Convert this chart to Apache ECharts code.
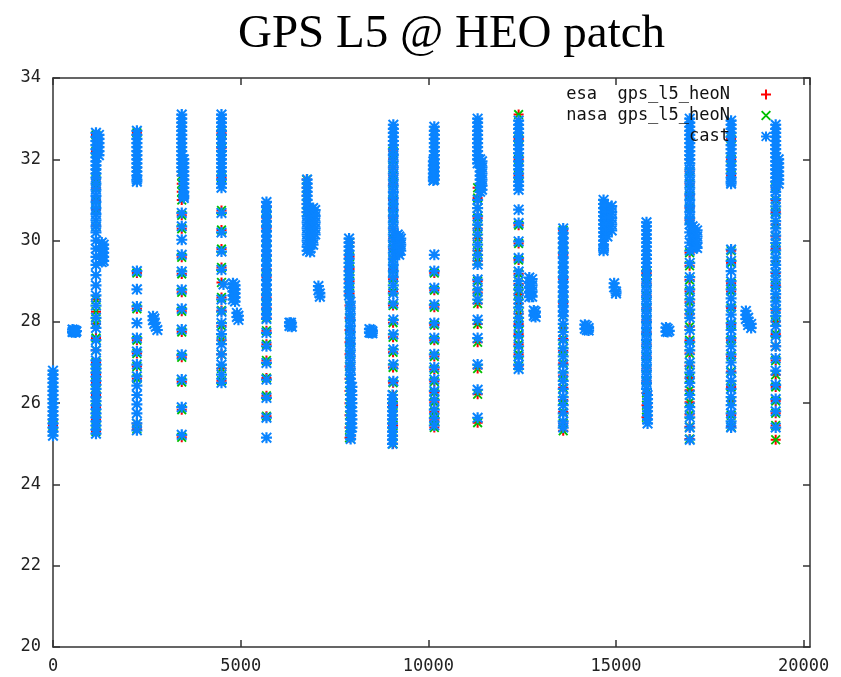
<!DOCTYPE html>
<html>
<head>
<meta charset="utf-8">
<script src="https://cdn.jsdelivr.net/npm/echarts@6.0.0/dist/echarts.min.js"></script>
<style>
  html, body { margin: 0; padding: 0; background: #fff; }
  #chart { width: 841px; height: 677px; }
</style>
</head>
<body>
<div id="chart"></div>
<script>
// gnuplot style scatter: three series, points grouped in vertical passes
// every entry is [x, [y, y, ...]]  (all points of a pass share that x)

var seriesNames = ['esa  gps_l5_heoN', 'nasa gps_l5_heoN', 'cast'];
var xTicks = [0, 5000, 10000, 15000, 20000];
var yTicks = [20, 22, 24, 26, 28, 30, 32, 34];

// cast points (blue *)
var castColumns = [
    [0, [26.8, 26.7, 26.6, 26.5, 26.4, 26.3, 26.2, 26.1, 26.0, 25.9, 25.8, 25.7, 25.6, 25.5, 25.4, 25.3, 25.2]],
    [520, [27.81, 27.75]],
    [560, [27.8, 27.75]],
    [600, [27.78, 27.74]],
    [625, [27.77]],
    [1145, [32.65, 32.55, 32.45, 32.35, 32.25, 32.15, 32.05, 31.95, 31.85, 31.75, 31.65, 31.55, 31.4, 31.25, 31.1, 30.95, 30.8, 30.65, 30.5, 30.35, 30.2, 30.0, 29.8, 29.6, 29.4, 29.15, 28.9, 28.65, 28.4, 28.1, 27.85, 27.55, 27.3, 27.05, 26.95, 26.85, 26.75, 26.65, 26.55, 26.45, 26.35, 26.25, 26.15, 26.05, 25.95, 25.85, 25.75, 25.65, 25.55, 25.45, 25.35, 25.25]],
    [1224, [32.6, 32.5, 32.4, 32.3, 32.2, 32.1]],
    [1300, [29.95, 29.85, 29.75, 29.65, 29.55, 29.47]],
    [1350, [29.9, 29.8, 29.7, 29.6, 29.5]],
    [2235, [32.7, 32.6, 32.5, 32.4, 32.3, 32.2, 32.1, 32.0, 31.9, 31.8, 31.7, 31.6, 31.5, 31.45, 29.25, 28.8, 28.38, 27.97, 27.6, 27.27, 26.95, 26.66, 26.43, 26.2, 25.97, 25.75, 25.5, 25.33]],
    [2665, [28.14, 28.04]],
    [2700, [28.08, 27.95]],
    [2740, [27.88]],
    [2780, [27.8]],
    [3430, [33.1, 33.0, 32.9, 32.8, 32.7, 32.6, 32.5, 32.4, 32.3, 32.2, 32.1, 32.0, 31.9, 31.8, 31.7, 30.68, 30.35, 30.02, 29.65, 29.24, 28.79, 28.32, 27.81, 27.19, 26.58, 25.9, 25.22]],
    [3485, [32.0, 31.9, 31.8, 31.7, 31.6, 31.5, 31.4, 31.3, 31.2, 31.1, 31.05]],
    [4489, [33.1, 33.0, 32.9, 32.8, 32.7, 32.6, 32.5, 32.4, 32.3, 32.2, 32.1, 32.0, 31.9, 31.8, 31.7, 31.6, 31.5, 31.4, 31.3, 30.68, 30.2, 29.73, 29.28, 28.55, 28.25, 27.97, 27.7, 27.45, 27.2, 26.95, 26.7, 26.5]],
    [4542, [28.92]],
    [4795, [28.95, 28.85, 28.75, 28.65, 28.55]],
    [4850, [28.9, 28.8, 28.7, 28.6, 28.5]],
    [4900, [28.22, 28.12]],
    [4940, [28.15, 28.05]],
    [5687, [30.95, 30.83, 30.71, 30.59, 30.47, 30.35, 30.23, 30.11, 29.99, 29.87, 29.75, 29.63, 29.51, 29.39, 29.27, 29.15, 29.03, 28.91, 28.79, 28.67, 28.55, 28.43, 28.31, 28.19, 28.07, 27.73, 27.4, 26.99, 26.58, 26.13, 25.64, 25.15]],
    [6300, [27.98, 27.9]],
    [6340, [27.98, 27.93]],
    [6362, [27.88]],
    [6770, [31.5, 31.4, 31.3, 31.2, 31.1, 31.0, 30.9, 30.8, 30.7, 30.6, 30.45, 30.3, 30.15, 30.0, 29.85, 29.75]],
    [6850, [30.7, 30.55, 30.4, 30.25, 30.1, 29.95, 29.8, 29.72]],
    [6930, [30.8, 30.65, 30.5, 30.35, 30.2, 30.05, 29.9]],
    [6985, [30.75, 30.6, 30.45, 30.3, 30.15]],
    [7071, [28.88, 28.78]],
    [7110, [28.7, 28.62]],
    [7888, [30.05, 29.95, 29.85, 29.75, 29.65, 29.55, 29.45, 29.35, 29.25, 29.15, 29.05, 28.95, 28.85, 28.75, 28.65]],
    [7923, [28.5, 28.35, 28.2, 28.05, 27.9, 27.75, 27.6, 27.45, 27.3, 27.15, 27.0, 26.85, 26.7, 26.6]],
    [7930, [26.5, 26.4, 26.3, 26.2, 26.1, 26.0, 25.9, 25.8, 25.7, 25.6, 25.5, 25.4, 25.3, 25.2, 25.12]],
    [7965, [26.4, 26.2, 26.0, 25.8, 25.6, 25.4]],
    [8430, [27.82, 27.74]],
    [8470, [27.8, 27.73]],
    [8510, [27.77, 27.72]],
    [9067, [32.85, 32.75, 32.65, 32.55, 32.45, 32.35, 32.25, 32.1, 31.95, 31.8, 31.65, 31.5, 31.35, 31.2, 31.05, 30.9, 30.75, 30.6, 30.45, 30.3, 30.15, 30.0, 29.85, 29.7, 29.55, 29.4, 29.25, 29.1, 28.9, 28.7, 28.45, 28.05, 27.69, 27.32, 26.95, 26.54]],
    [9045, [26.2, 26.1, 26.0, 25.9, 25.8, 25.7, 25.6, 25.5, 25.4, 25.3, 25.2, 25.1, 25.0]],
    [9185, [30.15, 30.0, 29.85, 29.7]],
    [9225, [30.1, 29.95, 29.8, 29.65]],
    [9265, [30.05, 29.9, 29.75]],
    [10159, [32.8, 32.7, 32.6, 32.5, 32.4, 32.3, 32.2, 32.1, 32.0, 31.9, 31.8, 31.7, 31.6, 31.5, 29.65, 29.25, 28.83, 28.42, 27.97, 27.6, 27.2, 26.88, 26.58, 26.3, 26.08, 25.84, 25.63, 25.45]],
    [10133, [31.95, 31.85, 31.75, 31.65, 31.55, 31.48]],
    [11313, [33.0, 32.9, 32.8, 32.7, 32.6, 32.5, 32.4, 32.3, 32.2, 32.1, 32.0, 31.9, 31.0, 30.8, 30.6, 30.39, 30.15, 29.9, 29.65, 29.41, 29.04, 28.79, 28.55, 28.05, 27.6, 26.95, 26.33, 25.64]],
    [11380, [32.0, 31.9, 31.8, 31.7, 31.6, 31.5, 31.4, 31.3, 31.2]],
    [11430, [31.95, 31.8, 31.65, 31.5, 31.35, 31.25]],
    [12405, [32.95, 32.85, 32.75, 32.65, 32.55, 32.45, 32.35, 32.25, 32.15, 32.05, 31.95, 31.85, 31.75, 31.65, 31.55, 31.45, 31.35, 31.25, 30.76, 30.43, 29.98, 29.57, 29.24, 29.0, 28.8, 28.55, 28.35, 28.1, 27.9, 27.65, 27.4, 27.15, 26.95, 26.84]],
    [12690, [29.09, 28.97, 28.85, 28.73, 28.61]],
    [12765, [29.05, 28.9, 28.75, 28.62]],
    [12810, [28.28, 28.15]],
    [12855, [28.25, 28.12]],
    [13593, [30.3, 30.18, 30.06, 29.94, 29.82, 29.7, 29.58, 29.46, 29.34, 29.22, 29.1, 28.98, 28.86, 28.74, 28.62, 28.5, 28.38, 28.26, 28.14, 27.95, 27.75, 27.55, 27.35, 27.15, 26.95, 26.75, 26.55, 26.35, 26.15, 25.95, 25.75, 25.55, 25.4]],
    [14170, [27.93, 27.83]],
    [14220, [27.9, 27.8]],
    [14270, [27.85, 27.79]],
    [14668, [31.0, 30.9, 30.8, 30.7, 30.6, 30.5, 30.4, 30.3, 30.2, 30.1, 30.0, 29.9, 29.8, 29.75]],
    [14770, [30.85, 30.7, 30.55, 30.4, 30.25, 30.1]],
    [14885, [30.85, 30.7, 30.55, 30.4, 30.25]],
    [14950, [28.95, 28.85]],
    [15000, [28.75, 28.7]],
    [15812, [30.45, 30.35, 30.25, 30.15, 30.05, 29.95, 29.85, 29.75, 29.65, 29.55, 29.45, 29.35, 29.25, 29.15, 29.05, 28.9, 28.75, 28.6, 28.45, 28.3, 28.15, 28.0, 27.85, 27.7, 27.55, 27.4, 27.25, 27.1, 26.95, 26.8, 26.65, 26.5, 26.35]],
    [15840, [26.2, 26.1, 26.0, 25.9, 25.8, 25.7, 25.6, 25.5]],
    [16330, [27.86, 27.76]],
    [16375, [27.83, 27.75]],
    [16420, [27.78]],
    [16965, [33.0, 32.9, 32.8, 32.7, 32.6, 32.5, 32.4, 32.3, 32.2, 32.1, 32.0, 31.9, 31.75, 31.6, 31.45, 31.3, 31.15, 31.0, 30.85, 30.7, 30.55, 30.4, 30.2, 29.95, 29.75, 29.45, 29.1, 28.8, 28.55, 28.3, 28.1, 27.8, 27.5, 27.3, 27.0, 26.75, 26.5, 26.2, 25.9, 25.65, 25.4, 25.1]],
    [17040, [30.35, 30.2, 30.05, 29.9, 29.8]],
    [17100, [30.3, 30.15, 30.0, 29.85]],
    [17160, [30.25, 30.1, 29.95, 29.82]],
    [18066, [32.95, 32.85, 32.75, 32.65, 32.55, 32.45, 32.35, 32.25, 32.15, 32.05, 31.95, 31.85, 31.75, 31.65, 31.55, 31.45, 31.4, 29.78, 29.5, 29.25, 29.0, 28.8, 28.58, 28.38, 28.18, 27.97, 27.8, 27.6, 27.4, 27.2, 27.0, 26.75, 26.55, 26.35, 26.15, 25.95, 25.75, 25.55, 25.4]],
    [18460, [28.27, 28.17, 28.07]],
    [18520, [28.1, 28.0, 27.92]],
    [18600, [27.95, 27.85]],
    [19254, [32.85, 32.75, 32.65, 32.55, 32.45, 32.35, 32.25, 32.15, 32.05, 31.95, 31.85, 31.75, 31.65, 31.55, 31.45, 31.35, 31.2, 31.02, 30.84, 30.66, 30.48, 30.3, 30.12, 29.94, 29.76, 29.58, 29.4, 29.22, 29.04, 28.86, 28.68, 28.5, 28.32, 28.14, 27.9, 27.65, 27.4, 27.1, 26.8, 26.45, 26.1, 25.8, 25.4]],
    [19334, [32.0, 31.9, 31.8, 31.7, 31.6, 31.5, 31.4]]
];

// esa points (red +); nasa (green x) sits on the same spots in the picture
var esaColumns = [
    [0, [26.7, 26.4, 26.1, 25.8, 25.6, 25.45, 25.3]],
    [1145, [32.6, 32.2, 31.75, 31.5, 31.3, 31.0, 30.75, 30.35, 28.55, 28.25, 27.95, 27.6, 27.3, 27.0, 26.7, 26.5, 26.2, 25.9, 25.6, 25.3]],
    [2235, [32.65, 32.1, 31.8, 29.2, 28.32, 27.55, 27.22, 26.9, 26.6, 25.5, 25.36]],
    [3430, [32.8, 32.3, 31.6, 31.4, 31.2, 31.0, 30.62, 30.29, 29.59, 29.18, 28.73, 28.26, 27.75, 27.13, 26.52, 25.84, 25.16]],
    [4489, [32.64, 32.27, 31.54, 30.74, 30.26, 29.79, 29.34, 28.97, 28.6, 28.28, 27.9, 27.55, 27.2, 26.85, 26.55]],
    [5687, [30.85, 30.55, 30.3, 30.0, 29.65, 29.3, 29.1, 28.8, 28.6, 28.35, 28.1, 27.78, 27.45, 27.05, 26.62, 26.18, 25.68]],
    [6760, [31.5, 31.3, 31.1, 30.9, 30.7]],
    [7900, [29.95, 29.6, 29.3, 29.0, 28.7, 28.4, 28.1, 27.8, 27.5, 27.2, 26.9, 26.6, 26.3, 26.0, 25.7, 25.4, 25.15]],
    [9060, [32.2, 32.0, 31.8, 31.6, 31.4, 31.2, 31.0, 30.8, 30.55, 30.3, 30.05, 29.8, 29.55, 29.3, 29.05, 28.75, 28.4, 27.98, 27.62, 27.25, 26.88, 26.5, 26.2, 25.95, 25.7, 25.45, 25.2, 25.0]],
    [10159, [32.7, 32.4, 32.1, 31.8, 31.5, 29.2, 28.78, 28.36, 27.92, 27.55, 27.15, 26.83, 26.53, 26.26, 26.02, 25.78, 25.58, 25.4]],
    [11313, [31.3, 31.05, 30.8, 30.55, 30.3, 30.05, 29.75, 29.5, 29.0, 28.72, 28.45, 27.95, 27.5, 26.85, 26.22, 25.52]],
    [12405, [33.1, 32.5, 32.0, 31.6, 30.38, 29.93, 29.52, 29.18, 28.93, 28.68, 28.45, 28.2, 27.95, 27.7, 27.45, 27.2, 26.92]],
    [13593, [30.25, 29.95, 29.65, 29.35, 29.05, 28.75, 28.45, 28.15, 27.85, 27.58, 27.28, 26.98, 26.68, 26.38, 26.08, 25.78, 25.5, 25.32]],
    [14668, [30.9, 30.5]],
    [15812, [29.2, 28.95, 28.65, 28.35, 28.05, 27.75, 27.45, 27.15, 26.85, 26.55, 26.25, 25.95, 25.65]],
    [16960, [32.0, 31.7, 31.4, 31.1, 30.8, 30.5, 29.7, 29.38, 29.03, 28.75, 28.48, 28.18, 27.88, 27.55, 27.22, 26.92, 26.62, 26.32, 26.02, 25.72, 25.42, 25.12]],
    [18066, [32.5, 32.0, 31.6, 29.75, 29.45, 28.95, 28.75, 28.34, 27.93, 27.55, 27.15, 26.78, 26.4, 26.05, 25.7, 25.42]],
    [19254, [31.3, 31.0, 30.7, 30.4, 30.1, 29.8, 29.5, 29.2, 28.9, 28.6, 28.3, 28.0, 27.7, 27.4, 27.05, 26.7, 26.4, 26.05, 25.75, 25.45, 25.1]]
];
var nasaColumns = esaColumns;

// gnuplot point types as filled paths
var PLUS = 'path://M4,0H6V4H10V6H6V10H4V6H0V4H4Z';
var CROSS = 'path://M0,1.3L1.3,0L10,8.7L8.7,10ZM0,8.7L8.7,0L10,1.3L1.3,10Z';
var STAR = 'path://M4,0H6V4H10V6H6V10H4V6H0V4H4ZM0,1.3L1.3,0L10,8.7L8.7,10ZM0,8.7L8.7,0L10,1.3L1.3,10Z';

function toPoints(columns) {
    var pts = [];
    for (var i = 0; i < columns.length; i++) {
        var x = columns[i][0], ys = columns[i][1];
        for (var j = 0; j < ys.length; j++) {
            pts.push([x, ys[j]]);
        }
    }
    return pts;
}

var MONO = '"DejaVu Sans Mono", "Liberation Mono", monospace';
var AXIS_COLOR = '#333';

function makeAxis(type, pos, showLabel) {
    var isX = type === 'x';
    return {
        type: 'value',
        position: pos,
        min: isX ? xTicks[0] : yTicks[0],
        max: isX ? 20168 : yTicks[yTicks.length - 1],
        interval: isX ? xTicks[1] - xTicks[0] : yTicks[1] - yTicks[0],
        axisLine: { show: true, onZero: false, lineStyle: { color: AXIS_COLOR, width: 1.5 } },
        axisTick: { show: true, inside: true, length: 7, lineStyle: { color: AXIS_COLOR, width: 1.5 } },
        axisLabel: {
            show: showLabel,
            color: '#222',
            fontFamily: MONO,
            fontSize: 17,
            margin: isX ? 11 : 12,
            showMaxLabel: isX ? false : true,
            formatter: function (v) { return String(v); }
        },
        splitLine: { show: false }
    };
}

var myChart = echarts.init(document.getElementById('chart'), null, { renderer: 'canvas' });

myChart.setOption({
    backgroundColor: '#ffffff',
    animation: false,
    title: {
        text: 'GPS L5 @ HEO patch',
        left: 233,
        top: 6,
        textStyle: {
            fontFamily: '"Liberation Serif", "DejaVu Serif", serif',
            fontSize: 47,
            fontWeight: 'normal',
            color: '#000'
        }
    },
    legend: {
        orient: 'vertical',
        right: 70,
        top: 84,
        padding: 0,
        itemGap: 0,
        itemWidth: 10,
        itemHeight: 10,
        align: 'right',
        selectedMode: false,
        data: seriesNames,
        formatter: function (name) {
            var s = name;
            while (s.length < 16) s = ' ' + s;
            return s;
        },
        textStyle: {
            fontFamily: MONO,
            fontSize: 17,
            lineHeight: 21,
            color: '#111',
            padding: [0, 26, 0, 0]
        }
    },
    grid: {
        left: 53,
        right: 31,
        top: 78,
        bottom: 30,
        containLabel: false,
        outerBoundsMode: 'none'
    },
    xAxis: [makeAxis('x', 'bottom', true), makeAxis('x', 'top', false)],
    yAxis: [makeAxis('y', 'left', true), makeAxis('y', 'right', false)],
    series: [
        {
            name: seriesNames[0],
            type: 'scatter',
            symbol: PLUS,
            symbolSize: 10,
            clip: false,
            itemStyle: { color: '#ff0000', opacity: 1 },
            data: toPoints(esaColumns)
        },
        {
            name: seriesNames[1],
            type: 'scatter',
            symbol: CROSS,
            symbolSize: 10,
            clip: false,
            itemStyle: { color: '#00c000', opacity: 1 },
            data: toPoints(nasaColumns)
        },
        {
            name: seriesNames[2],
            type: 'scatter',
            symbol: STAR,
            symbolSize: 11,
            clip: false,
            itemStyle: { color: '#0a84ff', opacity: 1 },
            data: toPoints(castColumns)
        }
    ]
});

window.addEventListener('resize', function () {
    myChart.resize();
});
</script>
</body>
</html>
